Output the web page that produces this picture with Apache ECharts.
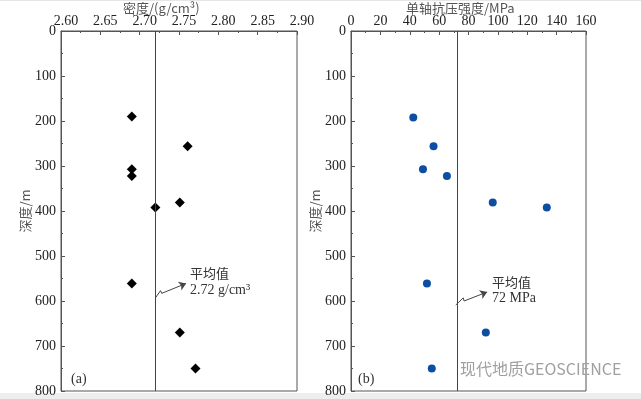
<!DOCTYPE html>
<html>
<head>
<meta charset="utf-8">
<script src="https://cdn.jsdelivr.net/npm/echarts@6/dist/echarts.min.js"></script>
<style>
  html, body { margin: 0; padding: 0; background: #fff; }
  #chart { width: 641px; height: 399px; }
</style>
</head>
<body>
<div id="chart"></div>
<script>
// panel (a): density vs depth
var depthA = [190, 256, 307, 322, 392, 381, 561, 670, 750];
var density = [2.690, 2.761, 2.690, 2.690, 2.720, 2.751, 2.690, 2.751, 2.771];
var densityMean = 2.72;
// panel (b): uniaxial compressive strength vs depth
var depthB = [192, 256, 307, 322, 381, 392, 561, 670, 750];
var strength = [42.4, 56.2, 49.0, 65.3, 96.5, 133.3, 51.7, 91.8, 55.0];
var strengthMean = 72;

var serif = 'Liberation Serif';
var cjk = 'Noto Sans CJK SC';
var frame = '#555';

var pairs = function(xs, ys) {
  return xs.map(function(x, i) { return [x, ys[i]]; });
};

var xAxisOf = function(idx, min, max, interval, fmt, pad) {
  return {
    type: 'value', gridIndex: idx, position: 'top',
    min: min, max: max, interval: interval,
    axisLine: { show: true, lineStyle: { color: frame } },
    axisTick: { show: true, inside: true, length: 4, lineStyle: { color: frame } },
    minorTick: { show: true, splitNumber: 2, length: 2, lineStyle: { color: frame } },
    splitLine: { show: false },
    axisLabel: { margin: 3, fontFamily: serif, fontSize: 14, color: '#222', formatter: fmt, padding: pad }
  };
};

var yAxisOf = function(idx, gap) {
  return {
    type: 'value', gridIndex: idx, inverse: true,
    min: 0, max: 800, interval: 100,
    name: '深度/m', nameLocation: 'middle', nameGap: gap, nameRotate: 90,
    nameTextStyle: { fontFamily: cjk, fontSize: 13, color: '#555' },
    axisLine: { show: true, lineStyle: { color: frame } },
    axisTick: { show: true, inside: true, length: 4, lineStyle: { color: frame } },
    minorTick: { show: true, splitNumber: 2, length: 2, lineStyle: { color: frame } },
    splitLine: { show: false },
    axisLabel: { margin: 5, fontFamily: serif, fontSize: 14, color: '#222' }
  };
};

// mean line plus the little zigzag arrow pointing at the note
var meanMark = function(mean, zig) {
  var segs = [];
  for (var i = 0; i < zig.length - 1; i++) {
    var last = i === zig.length - 2;
    segs.push([
      { coord: zig[i], symbol: 'none' },
      { coord: zig[i + 1], symbol: last ? 'arrow' : 'none', symbolSize: last ? 7 : 0 }
    ]);
  }
  return {
    silent: true, animation: false,
    symbol: ['none', 'none'],
    label: { show: false },
    lineStyle: { color: '#444', type: 'solid', width: 1 },
    data: [{ xAxis: mean }].concat(segs)
  };
};

var chart = echarts.init(document.getElementById('chart'));
chart.setOption({
  animation: false,
  grid: [
    { left: 61, top: 31, width: 236, height: 360, show: true, borderColor: frame, borderWidth: 1 },
    { left: 351, top: 31, width: 235, height: 360, show: true, borderColor: frame, borderWidth: 1 }
  ],
  xAxis: [
    xAxisOf(0, 2.6, 2.9, 0.05, function(v) { return v.toFixed(2); }, [0, 0, 0, 10]),
    xAxisOf(1, 0, 160, 20, null, 0)
  ],
  yAxis: [yAxisOf(0, 24), yAxisOf(1, 27)],
  series: [
    {
      type: 'scatter', xAxisIndex: 0, yAxisIndex: 0,
      symbol: 'diamond', symbolSize: 10,
      itemStyle: { color: '#000', opacity: 1 },
      data: pairs(density, depthA),
      markLine: meanMark(densityMean, [[2.7205, 592], [2.7265, 577], [2.728, 583], [2.759, 561]])
    },
    {
      type: 'scatter', xAxisIndex: 1, yAxisIndex: 1,
      symbol: 'circle', symbolSize: 8,
      itemStyle: { color: '#0b4ea2', opacity: 1 },
      data: pairs(strength, depthB),
      markLine: meanMark(strengthMean, [[71.3, 609], [76.4, 593], [77, 600], [92.7, 580]])
    }
  ],
  graphic: [
    { type: 'rect', shape: { x: 0, y: 393, width: 641, height: 6 }, style: { fill: '#eeeeee' }, silent: true },
    { type: 'rect', shape: { x: 0, y: 0, width: 641, height: 1 }, style: { fill: '#e6e6e6' }, silent: true },
    { type: 'text', left: 123, top: 2, style: { text: '密度/(g/cm³)', font: '13px "Noto Sans CJK SC"', fill: '#555' } },
    { type: 'text', left: 406, top: 2, style: { text: '单轴抗压强度/MPa', font: '13px "Noto Sans CJK SC"', fill: '#555' } },
    { type: 'text', left: 190, top: 267, style: { text: '平均值', font: '13px "Noto Sans CJK SC"', fill: '#333' } },
    { type: 'text', left: 190, top: 283, style: { text: '2.72 g/cm³', font: '14px "Liberation Serif"', fill: '#333' } },
    { type: 'text', left: 492, top: 276, style: { text: '平均值', font: '13px "Noto Sans CJK SC"', fill: '#333' } },
    { type: 'text', left: 492, top: 291, style: { text: '72 MPa', font: '14px "Liberation Serif"', fill: '#333' } },
    { type: 'text', left: 71, top: 372, style: { text: '(a)', font: '14px "Liberation Serif"', fill: '#333' } },
    { type: 'text', left: 358, top: 372, style: { text: '(b)', font: '14px "Liberation Serif"', fill: '#333' } },
    { type: 'text', left: 460, top: 361, style: { text: '现代地质GEOSCIENCE', font: '16px "Noto Sans CJK SC"', fill: '#a0a0a0' } }
  ]
});
</script>
</body>
</html>
